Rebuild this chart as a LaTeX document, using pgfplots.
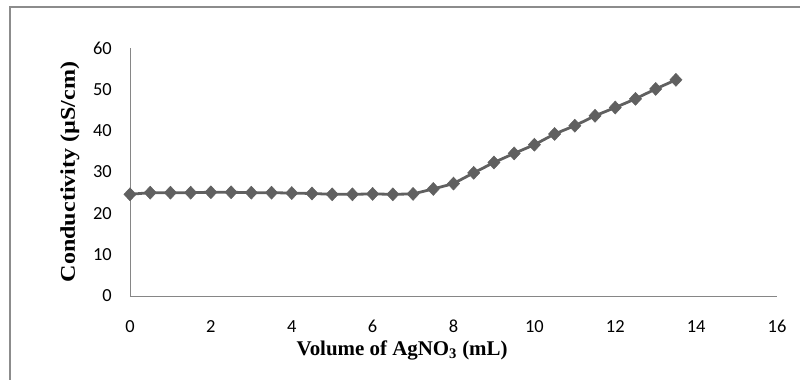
\documentclass[border=0pt]{standalone}
\usepackage{pgfplots}
\pgfplotsset{compat=1.18}
\usepackage{fontspec}
\setmainfont{Liberation Serif}
\newfontfamily\tickfont{Carlito}
\definecolor{linegray}{RGB}{96,96,96}
\definecolor{axgray}{RGB}{134,134,134}
\definecolor{framegray}{RGB}{140,140,140}
\begin{document}
\begin{tikzpicture}
\begin{axis}[
  at={(0,0)}, anchor=south west,
  scale only axis,
  width=647bp, height=248bp,
  xmin=0, xmax=16, ymin=0, ymax=60,
  xtick={0,2,...,16}, ytick={0,10,...,60},
  axis x line*=bottom, axis y line*=left,
  axis line style={draw=axgray, line width=0.9bp, -},
  major tick length=0pt,
  /pgf/number format/assume math mode=true,
  tick label style={font=\tickfont\fontsize{18.5}{20}\selectfont, text=black, inner sep=0pt},
  xticklabel shift=24bp,
  yticklabel shift=18bp,
  xlabel={Volume of AgNO\textsubscript{3} (mL)},
  xlabel style={at={(rel axis cs:0.4205,0)}, anchor=base, yshift=-59bp, inner sep=0pt,
    font=\bfseries\fontsize{21}{24}\selectfont},
  ylabel={Conductivity (µS/cm)},
  ylabel style={at={(rel axis cs:0,0.5)}, anchor=base, xscale=1.15, yshift=55bp, inner sep=0pt,
    font=\bfseries\fontsize{21}{24}\selectfont},
  clip=false,
]
\addplot[color=linegray, line width=2.8bp, mark=diamond*, mark size=6.5bp,
  mark options={solid, fill=linegray, draw=linegray, line width=0.5bp, xscale=1.25}]
coordinates {
(0,24.6) (0.5,25.0) (1,25.0) (1.5,25.0) (2,25.1) (2.5,25.1) (3,25.0) (3.5,25.0)
(4,24.9) (4.5,24.8) (5,24.6) (5.5,24.6) (6,24.7) (6.5,24.6) (7,24.7)
(7.5,25.9) (8,27.2) (8.5,29.8) (9,32.3) (9.5,34.5) (10,36.6) (10.5,39.2)
(11,41.2) (11.5,43.6) (12,45.6) (12.5,47.7) (13,50.1) (13.5,52.3)
};
\end{axis}
\draw[framegray, line width=2bp] (-120bp,-84bp) -- (-120bp,289bp) -- (680bp,289bp);
\pgfresetboundingbox
\useasboundingbox (-130bp,-84bp) rectangle (670bp,296bp);
\end{tikzpicture}
\end{document}
